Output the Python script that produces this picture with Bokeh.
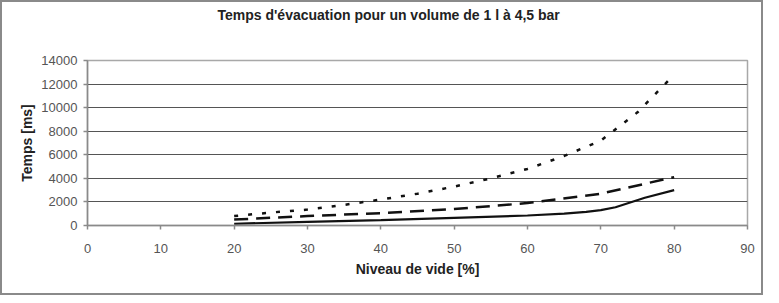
from bokeh.plotting import figure
from bokeh.models import FixedTicker, Range1d, Title
from bokeh.embed import file_html
from bokeh.resources import INLINE

# Data
x_solid = [20, 30, 40, 50, 60, 65, 68, 70, 72, 74, 76, 80]
y_solid = [150, 300, 450, 650, 850, 1000, 1150, 1300, 1550, 1950, 2350, 3000]

x_dashed = [20, 30, 40, 50, 60, 70, 80]
y_dashed = [500, 800, 1050, 1400, 1900, 2700, 4100]

x_dotted = [20, 25, 30, 35, 40, 45, 50, 55, 60, 65, 70, 75, 80]
y_dotted = [800, 1100, 1350, 1750, 2200, 2700, 3300, 4000, 4800, 5900, 7200, 9600, 12800]

x_ticks = [0, 10, 20, 30, 40, 50, 60, 70, 80, 90]
y_ticks = [0, 2000, 4000, 6000, 8000, 10000, 12000, 14000]

title_text = "Temps d'évacuation pour un volume de 1 l à 4,5 bar"
x_label = "Niveau de vide [%]"
y_label = "Temps [ms]"

FONT = "Liberation Sans"

p = figure(width=763, height=295, output_backend="svg", toolbar_location=None,
           title=None,
           x_range=Range1d(0, 90), y_range=Range1d(0, 14000),
           min_border_left=85, min_border_right=18, min_border_top=58, min_border_bottom=72)

# spacer between plot area and title, then the title itself
spacer = Title(text=" ", text_font_size="1px", standoff=35)
p.add_layout(spacer, "above")
p.add_layout(Title(text=title_text, align="left", offset=130, text_font=FONT,
                   text_font_size="14px", text_font_style="bold", text_color="#222222",
                   standoff=0), "above")

p.styles = {"border": "2px solid #8a8a8a", "box-sizing": "border-box"}

p.outline_line_color = "#a8a8a8"
p.outline_line_width = 1.5

p.xaxis.ticker = FixedTicker(ticks=x_ticks)
p.yaxis.ticker = FixedTicker(ticks=y_ticks)
for ax in (p.xaxis[0], p.yaxis[0]):
    ax.axis_line_color = "#8a8a8a"
    ax.axis_line_width = 1.5
    ax.major_tick_line_color = "#8a8a8a"
    ax.major_tick_line_width = 1.5
    ax.major_tick_out = 4
    ax.major_tick_in = 0
    ax.minor_tick_line_color = None
    ax.major_label_text_font = FONT
    ax.major_label_text_font_size = "13px"
    ax.major_label_text_color = "#555555"
    ax.axis_label_text_font = FONT
    ax.axis_label_text_font_size = "14px"
    ax.axis_label_text_font_style = "bold"
    ax.axis_label_text_color = "#222222"

p.xaxis.axis_label = x_label
p.yaxis.axis_label = y_label
p.xaxis.major_label_standoff = 14
p.xaxis.axis_label_standoff = 5
p.yaxis.major_label_standoff = 6
p.yaxis.axis_label_standoff = 3

p.xgrid.grid_line_color = None
p.ygrid.grid_line_color = "#555555"
p.ygrid.grid_line_width = 1.2

p.line(x_solid, y_solid, line_color="#111111", line_width=2.2)
p.line(x_dashed, y_dashed, line_color="#111111", line_width=2.5, line_dash="14 8")
p.line(x_dotted, y_dotted, line_color="#111111", line_width=2.5, line_dash="4 10")

open("out.html", "w").write(file_html(p, INLINE))
